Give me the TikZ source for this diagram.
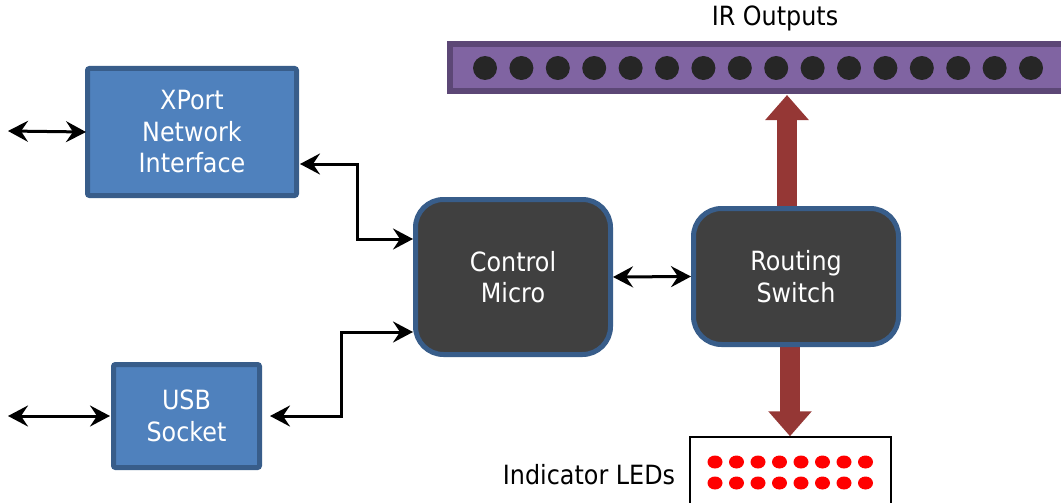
\documentclass[tikz,border=0pt]{standalone}
\usepackage{fontspec}
\setmainfont{DejaVu Sans}[FakeStretch=0.9]
\usetikzlibrary{arrows.meta,backgrounds}
\definecolor{bluefill}{HTML}{4F81BD}
\definecolor{blueedge}{HTML}{385D8A}
\definecolor{darkfill}{HTML}{404040}
\definecolor{redarrow}{HTML}{953735}
\definecolor{purplefill}{HTML}{8064A2}
\definecolor{purpleedge}{HTML}{5C4776}
\definecolor{dotc}{HTML}{262626}
\definecolor{ledred}{HTML}{FF0000}
\tikzset{
  txt/.style={font=\fontsize{26.5}{31.5}\selectfont, align=center},
  bluebox/.style={txt, draw=blueedge, fill=bluefill, line width=5pt, text=white, rounded corners=2pt, inner sep=0pt},
  darkbox/.style={txt, draw=blueedge, fill=darkfill, line width=5pt, text=white, rounded corners=28pt, inner sep=0pt},
  biarrow/.style={line width=3pt, {Stealth[length=20pt 0 0,width=21pt 0 0,inset=7pt]}-{Stealth[length=20pt 0 0,width=21pt 0 0,inset=7pt]}},
  bigarrow/.style={line width=20pt, draw=redarrow, -{Triangle[length=25pt 0 0,width=42pt 0 0]}},
}
\begin{document}
\begin{tikzpicture}[x=1pt,y=-1pt]
\useasboundingbox (0,0) rectangle (1061,503);
% boxes
\node[bluebox, minimum width=209pt, minimum height=127pt] (xp) at (192,132) {XPort\\Network\\Interface};
\node[bluebox, minimum width=146pt, minimum height=103pt] (us) at (186.5,416) {USB\\Socket};
\node[darkbox, minimum width=195pt, minimum height=155pt] (cm) at (513,277) {Control\\Micro};
\node[darkbox, minimum width=205pt, minimum height=136pt] (rs) at (796,276.5) {Routing\\Switch};
\node[draw=purpleedge, fill=purplefill, line width=6pt, minimum width=630pt, minimum height=47pt, inner sep=0pt] (ir) at (765,67.5) {};
\node[draw=black, fill=white, line width=1.5pt, minimum width=201pt, minimum height=90pt, inner sep=0pt] (led) at (790.5,482) {};
% dots
\foreach \i in {0,...,15} \fill[dotc] (485+36.4*\i,68) circle (12);
\foreach \i in {0,...,7} \foreach \yy in {462,483} \fill[ledred] (715+21.5*\i,\yy) ellipse (7.5 and 6.5);
% labels
\node[txt] (irl) at (775,18) {IR Outputs};
\node[txt] (ledl) at (589,475) {Indicator LEDs};
% external ends
\coordinate (xl) at (8,131);
\coordinate (ul) at (8,416);
% black connectors
\draw[biarrow] (xl) -- ([xshift=1pt]xp.west);
\draw[biarrow] (ul) -- ([xshift=-1pt]us.west);
\draw[biarrow] ([xshift=1pt,yshift=-32pt]xp.east) -- ++(57,0) |- ([yshift=38pt]cm.west);
\draw[biarrow] ([xshift=8pt]us.east) -- (341,416) |- ([yshift=-55pt]cm.west);
\draw[biarrow] (cm.east) -- (rs.west);
% red connectors
\begin{pgfonlayer}{background}
\draw[bigarrow] ([xshift=-9pt]rs.north) -- ([xshift=-9pt,yshift=-1pt]rs.north |- ir.south);
\draw[bigarrow] ([xshift=-6pt]rs.south) -- ([xshift=-6pt]rs.south |- led.north);
\end{pgfonlayer}
\end{tikzpicture}
\end{document}
